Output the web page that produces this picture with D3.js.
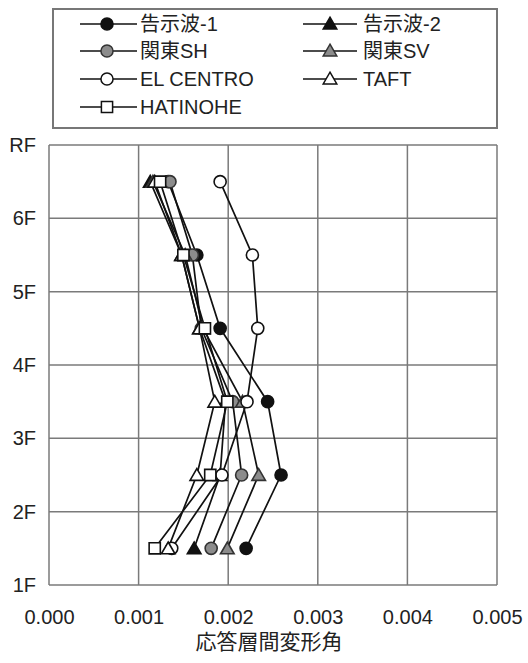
<!DOCTYPE html>
<html><head><meta charset="utf-8">
<script src="https://cdn.jsdelivr.net/npm/d3@7/dist/d3.min.js"></script>
<style>body{margin:0;background:#fff}svg{display:block}</style>
</head><body>
<script>
const levels = [1.5, 2.5, 3.5, 4.5, 5.5, 6.5];
const floorLabels = ["1F","2F","3F","4F","5F","6F","RF"];
const xTicks = [0, 0.001, 0.002, 0.003, 0.004, 0.005];
const seriesNames = ["告示波-1","告示波-2","関東SH","関東SV","EL CENTRO","TAFT","HATINOHE"];
const kokuji1  = [0.00220, 0.00259, 0.00244, 0.00191, 0.00165, 0.00133];
const kokuji2  = [0.00162, 0.00191, 0.00197, 0.00168, 0.00148, 0.00113];
const kantoSH  = [0.00181, 0.00215, 0.00205, 0.00170, 0.00160, 0.00135];
const kantoSV  = [0.00199, 0.00234, 0.00216, 0.00172, 0.00152, 0.00116];
const elcentro = [0.00137, 0.00193, 0.00221, 0.00233, 0.00227, 0.00191];
const taft     = [0.00133, 0.00165, 0.00185, 0.00168, 0.00148, 0.00118];
const hatinohe = [0.00118, 0.00180, 0.00199, 0.00174, 0.00150, 0.00124];
const xTitle = "応答層間変形角";

(function(){
const W = 528, H = 663;
const pL = 49, pR = 497, pT = 145, pB = 585;
const font = "Arial, 'Liberation Sans', 'Noto Sans CJK JP', sans-serif";

const svg = d3.select("body").append("svg").attr("width", W).attr("height", H)
  .style("font-family", font);

const x = d3.scaleLinear().domain([0, 0.005]).range([pL, pR]);
const y = d3.scaleLinear().domain([1, 7]).range([pB, pT]);

// grid
const g = svg.append("g");
g.selectAll("line.v").data(xTicks).join("line")
  .attr("x1", d => x(d)).attr("x2", d => x(d)).attr("y1", pT).attr("y2", pB)
  .attr("stroke", "#7a7a7a").attr("stroke-width", 1.5);
g.selectAll("line.h").data(d3.range(1, 8)).join("line")
  .attr("x1", pL).attr("x2", pR).attr("y1", d => y(d)).attr("y2", d => y(d))
  .attr("stroke", "#7a7a7a").attr("stroke-width", 1.5);

// axes labels
const xAxis = d3.axisBottom(x).tickValues(xTicks).tickFormat(d3.format(".3f")).tickSize(0).tickPadding(25);
svg.append("g").attr("transform", `translate(0,${pB})`).call(xAxis)
  .call(s => s.select(".domain").remove())
  .selectAll("text").attr("font-size", 20).attr("fill", "#222").style("font-family", font);
const yAxis = d3.axisLeft(y).tickValues(d3.range(1, 8)).tickFormat((d, i) => floorLabels[i]).tickSize(0).tickPadding(13);
svg.append("g").attr("transform", `translate(${pL},0)`).call(yAxis)
  .call(s => s.select(".domain").remove())
  .selectAll("text").attr("font-size", 20).attr("fill", "#222").style("font-family", font);

svg.append("text").attr("x", (pL + pR) / 2 - 4).attr("y", 649).attr("text-anchor", "middle")
  .attr("font-size", 21).attr("fill", "#222").text(xTitle);

// series
const styles = [
  {vals: kokuji1, shape: "circle", fill: "#111", stroke: "#111"},
  {vals: kokuji2, shape: "triangle", fill: "#111", stroke: "#111"},
  {vals: kantoSH, shape: "circle", fill: "#8c8c8c", stroke: "#333"},
  {vals: kantoSV, shape: "triangle", fill: "#8c8c8c", stroke: "#333"},
  {vals: elcentro, shape: "circle", fill: "#fff", stroke: "#111"},
  {vals: taft, shape: "triangle", fill: "#fff", stroke: "#111"},
  {vals: hatinohe, shape: "square", fill: "#fff", stroke: "#111"}
];
const sym = {
  circle: d3.symbol(d3.symbolCircle, 115),
  triangle: d3.symbol(d3.symbolTriangle, 80),
  square: d3.symbol(d3.symbolSquare, 125)
};
const line = d3.line().x(d => x(d[0])).y(d => y(d[1]));
const plot = svg.append("g");
styles.forEach(s => {
  const pts = s.vals.map((v, i) => [v, levels[i]]);
  plot.append("path").attr("d", line(pts)).attr("fill", "none").attr("stroke", "#111").attr("stroke-width", 1.7);
});
styles.forEach(s => {
  const pts = s.vals.map((v, i) => [v, levels[i]]);
  plot.selectAll(null).data(pts).join("path")
    .attr("transform", d => `translate(${x(d[0])},${y(d[1]) + (s.shape === "triangle" ? 1.5 : 0)})`)
    .attr("d", sym[s.shape]).attr("fill", s.fill).attr("stroke", s.stroke).attr("stroke-width", 1.6);
});

// legend
const lg = svg.append("g");
lg.append("rect").attr("x", 53).attr("y", 9).attr("width", 444).attr("height", 119)
  .attr("fill", "#fff").attr("stroke", "#777").attr("stroke-width", 2);
const rowsY = [24, 51, 79, 107];
const colX = [{l1: 80, l2: 137, m: 107, t: 140}, {l1: 303, l2: 357, m: 330, t: 363}];
styles.forEach((s, i) => {
  const c = colX[i % 2], ry = rowsY[Math.floor(i / 2)];
  lg.append("line").attr("x1", c.l1).attr("x2", c.l2).attr("y1", ry).attr("y2", ry)
    .attr("stroke", "#111").attr("stroke-width", 1.7);
  lg.append("path").attr("transform", `translate(${c.m},${ry + (s.shape === "triangle" ? 1 : 0)})`)
    .attr("d", sym[s.shape])
    .attr("fill", s.fill).attr("stroke", s.stroke).attr("stroke-width", 1.5);
  lg.append("text").attr("x", c.t).attr("y", ry).attr("dy", "0.36em")
    .attr("font-size", 20).attr("fill", "#222").text(seriesNames[i]);
});
})();
</script>
</body></html>
